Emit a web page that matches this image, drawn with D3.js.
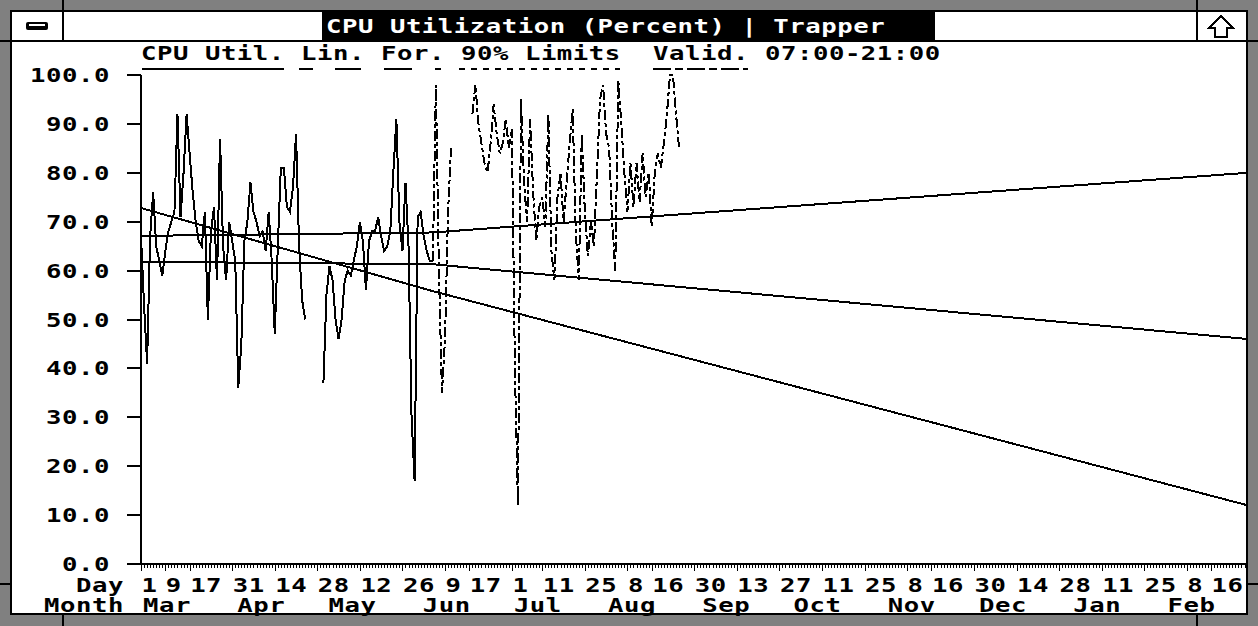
<!DOCTYPE html>
<html><head><meta charset="utf-8">
<script src="https://cdn.jsdelivr.net/npm/d3@7"></script>
<style>
html,body{margin:0;padding:0;overflow:hidden;background:#fff;}
svg{display:block;}
text{font-family:"DejaVu Sans Mono","Liberation Mono",monospace;font-weight:bold;font-size:19px;letter-spacing:0.4px;}
</style></head><body>
<svg id="c" width="1258" height="626"></svg>
<script>
// ---------- data ----------
const title = "CPU Utilization (Percent) | Trapper";
const legendLabels = ["CPU Util.", "Lin.", "For.", "90% Limits", "Valid.", "07:00-21:00"];
const legendCols   = [0, 10, 15, 20, 32, 39];
const yTicks = [0, 10, 20, 30, 40, 50, 60, 70, 80, 90, 100];
const dayTickDates = ["1993-03-01","1993-03-09","1993-03-17","1993-03-31","1993-04-14","1993-04-28",
  "1993-05-12","1993-05-26","1993-06-09","1993-06-17","1993-07-01","1993-07-11","1993-07-25",
  "1993-08-08","1993-08-16","1993-08-30","1993-09-13","1993-09-27","1993-10-11","1993-10-25",
  "1993-11-08","1993-11-16","1993-11-30","1993-12-14","1993-12-28","1994-01-11","1994-01-25",
  "1994-02-08","1994-02-16"];
const monthStarts = ["1993-03-01","1993-04-01","1993-05-01","1993-06-01","1993-07-01","1993-08-01",
  "1993-09-01","1993-10-01","1993-11-01","1993-12-01","1994-01-01","1994-02-01"];
const monthNames = ["Mar","Apr","May","Jun","Jul","Aug","Sep","Oct","Nov","Dec","Jan","Feb"];

// CPU utilisation, daily from 1 Mar (null = missing day)
const cpuStart = "1993-03-01";
const cpuUtil = [67,53,41,67,76,65,62,59,64,68,70,72,92,71,80,92,84,76,70,66,
  65,72,50,68,73,58,87,65,58,70,66,62,36,45,66,70,78,72,70,67,
  68,64,72,62,47,65,81,81,73,72,77,88,65,54,50,null,null,null,null,null,
  37,55,61,58,50,46,50,58,60,59,62,65,70,66,56,66,68,68,71,67,
  64,65,68,80,91,70,64,78,65,30,17,71,72,67,64,62,62];

// validation data, daily from 5 Jun
const validStart = "1993-06-05";
const validUtil = [62,98,60,35,46,72,85,null,null,null,null,null,null,
  92,98,90,86,82,80,86,94,88,84,86,91,85,89,40,12,95,78,70,91,76,66,
  73,75,69,92,64,58,75,80,70,78,86,93,68,58,88,72,63,70,65,80,95,98,
  88,85,70,60,99,90,80,72,82,73,82,74,84,75,80,69,80,84,81,86,92,100,100,92,85];

// straight fit / forecast / limit lines
const lineDates  = ["1993-03-01","1993-06-05","1994-02-28"];
const upperLine  = [67.1, 67.8, 80.0];
const middleLine = [61.8, 61.3, 46.0];
const lowerLine  = [72.8, 55.8, 12.0];

// ---------- drawing ----------
const svg = d3.select("#c");
const parse = d3.utcParse("%Y-%m-%d");
const SX = 1.35, CELL = 16;

const defs = svg.append("defs");
defs.append("clipPath").attr("id","plotclip").append("rect")
  .attr("x",127).attr("y",60).attr("width",1246-127).attr("height",520);

// window frame: dithered (grey) border, black rim, white client area
svg.append("rect").attr("width",1258).attr("height",626).attr("fill","#808080");
svg.append("rect").attr("x",10).attr("y",10).attr("width",1238).attr("height",605).attr("fill","#000");
svg.append("rect").attr("x",12).attr("y",12).attr("width",1234).attr("height",601).attr("fill","#fff");
const frame = svg.append("g").attr("fill","#000").attr("shape-rendering","crispEdges");
[62,1196].forEach(x=>{
  frame.append("rect").attr("x",x).attr("y",0).attr("width",2).attr("height",12);
  frame.append("rect").attr("x",x).attr("y",613).attr("width",2).attr("height",13);
});
[40,583].forEach(y=>{
  frame.append("rect").attr("x",0).attr("y",y).attr("width",12).attr("height",2);
  frame.append("rect").attr("x",1246).attr("y",y).attr("width",12).attr("height",2);
});
// title bar
frame.append("rect").attr("x",12).attr("y",40).attr("width",1234).attr("height",2);
frame.append("rect").attr("x",62).attr("y",12).attr("width",2).attr("height",28);
frame.append("rect").attr("x",1196).attr("y",12).attr("width",2).attr("height",28);
frame.append("rect").attr("x",322).attr("y",12).attr("width",613).attr("height",28);
// minimize icon
svg.append("rect").attr("x",26).attr("y",22).attr("width",22).attr("height",8).attr("rx",2).attr("fill","#000");
svg.append("rect").attr("x",29).attr("y",24).attr("width",16).attr("height",2).attr("fill","#fff");
// up-arrow icon
svg.append("path").attr("d","M1221,16 L1209,28 L1215,28 L1215,37 L1227,37 L1227,28 L1233,28 Z")
  .attr("fill","#fff").attr("stroke","#000").attr("stroke-width",2).attr("shape-rendering","crispEdges");

function txt(str, x, y, anchor, fill){
  svg.append("text").attr("transform",`translate(${x},${y}) scale(${SX},1)`)
    .attr("text-anchor",anchor||"start").attr("fill",fill||"#000")
    .style("white-space","pre").text(str);
}
txt(title, 326, 33, "start", "#fff");

// legend
legendLabels.forEach((s,i)=> txt(s, 141 + legendCols[i]*CELL, 60));
const ul = svg.append("g").attr("stroke","#000").attr("stroke-width",2).attr("shape-rendering","crispEdges");
const underline = (x1,x2,dash)=> ul.append("line").attr("x1",x1).attr("x2",x2).attr("y1",69).attr("y2",69)
  .attr("stroke-dasharray",dash||null);
underline(142,284);
underline(299,362,"14,22,26,40");
underline(384,442,"28,23,6,40");
underline(459,620,"6,6");
underline(653,748,"18,4,8,4");

// scales
const x = d3.scaleUtc().domain([parse("1993-03-01"), parse("1994-03-01")]).range([141, 141+365*3.04]);
const y = d3.scaleLinear().domain([0,100]).range([564,75]);

// axes
const ax = svg.append("g").attr("stroke","#000").attr("stroke-width",2).attr("shape-rendering","crispEdges");
ax.append("line").attr("x1",141).attr("x2",141).attr("y1",y(100)).attr("y2",y(0));
ax.append("line").attr("x1",127).attr("x2",1246).attr("y1",y(0)).attr("y2",y(0));
yTicks.forEach(v=>{
  ax.append("line").attr("x1",127).attr("x2",141).attr("y1",y(v)).attr("y2",y(v));
  txt(v.toFixed(1), 110, y(v)+7, "end");
});
const allDays = d3.utcDay.range(parse("1993-03-01"), parse("1994-03-01"));
const tk = svg.append("g").attr("stroke","#000").attr("stroke-width",1).attr("shape-rendering","crispEdges");
const major = new Set(dayTickDates);
const fmtISO = d3.utcFormat("%Y-%m-%d");
allDays.forEach(d=>{
  const X = Math.round(x(d));
  if (X > 1245) return;
  tk.append("line").attr("x1",X+0.5).attr("x2",X+0.5).attr("y1",565)
    .attr("y2", major.has(fmtISO(d)) ? 571 : 568);
});
const dayFmt = d3.utcFormat("%-d");
txt("Day", 124, 592, "end");
txt("Month", 124, 612, "end");
dayTickDates.forEach(s=>{ const d = parse(s); txt(dayFmt(d), x(d)+0.5, 592); });
monthStarts.forEach((s,i)=> txt(monthNames[i], x(parse(s))+2, 612));

// series
const plot = svg.append("g").attr("clip-path","url(#plotclip)")
  .attr("fill","none").attr("stroke","#000").attr("stroke-width",2)
  .attr("shape-rendering","crispEdges").attr("stroke-linejoin","miter");

const fitLine = d3.line().x(p=>x(p[0])).y(p=>y(p[1]));
[upperLine, middleLine, lowerLine].forEach(vals=>{
  plot.append("path").attr("d", fitLine(lineDates.map((s,i)=>[parse(s), vals[i]])));
});

const dataLine = d3.line().defined(p=>p[1]!=null).x(p=>x(p[0])).y(p=>y(p[1]));
const toPts = (start, arr)=> arr.map((v,i)=>[d3.utcDay.offset(parse(start), i), v]);
plot.append("path").attr("d", dataLine(toPts(cpuStart, cpuUtil)));
plot.append("path").attr("d", dataLine(toPts(validStart, validUtil)))
  .attr("stroke-dasharray","10,3,4,3");
</script>
</body></html>
